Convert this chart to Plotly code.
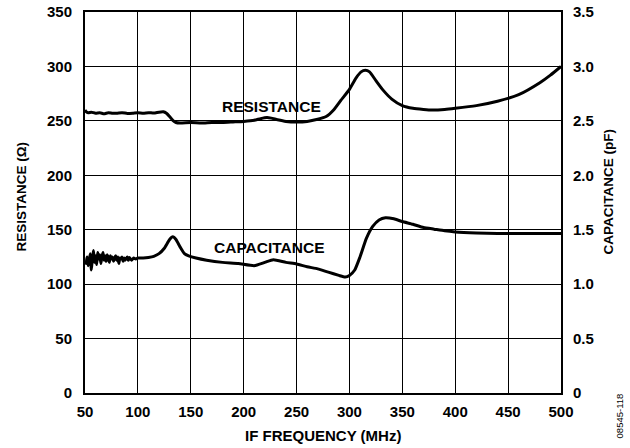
import plotly.graph_objects as go

# Resistance (ohm) vs IF frequency (MHz)
res_freq = [50, 51, 53, 56, 60, 64, 68, 72, 76, 80, 85, 90, 95, 100, 105, 110, 115,
            120, 124, 127, 130, 133, 136, 140, 150, 160, 170, 180, 190, 200, 210, 216, 222, 226, 232,
            240, 250, 260, 270, 278, 285, 292, 300, 306, 311, 315, 319, 325, 332, 340, 350, 360,
            370, 378, 390, 400, 420, 440, 460, 480, 490, 500]
res_vals = [260, 258.5, 257.5, 258, 257, 257.5, 256.5, 257.5, 257, 257, 257.5, 256.8,
            257, 257.5, 257, 257.5, 257.2, 258, 258.3, 257, 254, 250.5, 248.5, 248, 248.5, 248, 248.5, 248.5,
            249, 249.5, 250.5, 252, 253, 252.5, 251,
            249.5, 249, 249.5, 251.5, 254, 260, 269, 279, 289, 295, 296.5, 295, 287, 278, 270, 264, 261.5,
            260.5, 260, 260.5, 261.5, 264, 268, 274, 285, 292, 300]

# Capacitance (pF) vs IF frequency (MHz)
cap_freq = [50, 51, 52, 53, 54, 55, 56, 57, 58, 59, 60, 61, 62, 63, 64, 65, 66, 67, 68, 69, 70,
            71, 72, 73, 74, 75, 76, 77, 78, 79, 80, 81, 82, 83, 84, 85, 86, 87, 88, 90, 91, 92, 94,
            96, 98, 100, 105, 110, 115, 120, 125, 130, 133, 136, 140, 144,
            148, 155, 165, 180, 195, 210, 220, 228, 240, 250, 260, 270, 280, 290, 296, 300, 305, 310,
            316, 322, 328, 334, 342, 350, 360, 370, 380, 390, 400, 420, 440, 460, 500]
cap_vals = [1.21, 1.19, 1.25, 1.17, 1.22, 1.28, 1.13, 1.24, 1.31, 1.20, 1.26, 1.18, 1.29, 1.23, 1.27,
            1.19, 1.25, 1.29, 1.22, 1.26, 1.21, 1.27, 1.24, 1.20, 1.26, 1.23, 1.25, 1.21, 1.24, 1.26,
            1.22, 1.25, 1.19, 1.24, 1.23, 1.25, 1.21, 1.24, 1.22, 1.25, 1.22, 1.245, 1.22,
            1.24, 1.23, 1.24, 1.24, 1.245, 1.255, 1.28, 1.33, 1.41, 1.435, 1.41, 1.34, 1.28,
            1.26, 1.24, 1.22, 1.20, 1.19, 1.17, 1.20, 1.225, 1.20, 1.185, 1.16, 1.14, 1.11, 1.08,
            1.065, 1.08, 1.13, 1.25, 1.42, 1.53, 1.59, 1.61, 1.60, 1.575, 1.55, 1.52, 1.505, 1.49,
            1.48, 1.47, 1.465, 1.465, 1.465]

x_ticks = [50, 100, 150, 200, 250, 300, 350, 400, 450, 500]
y_left_ticks = [0, 50, 100, 150, 200, 250, 300, 350]
y_right_ticks = [0, 0.5, 1.0, 1.5, 2.0, 2.5, 3.0, 3.5]
y_right_labels = ["0", "0.5", "1.0", "1.5", "2.0", "2.5", "3.0", "3.5"]

FONT = "Liberation Sans, Arial, sans-serif"
tickfont = dict(family=FONT, size=15, color="black", weight="bold")

W, H = 630, 448
PL, PT, PR, PB = 85, 12, 561.5, 393   # plot area in page pixels
L, T, R, B = PL, PT, W - PR, H - PB
pw, ph = W - L - R, H - T - B


def paper(px, py):
    return (px - PL) / pw, (PB - py) / ph


fig = go.Figure()
fig.add_trace(go.Scatter(x=res_freq, y=res_vals, mode="lines",
                         line=dict(color="black", width=3, shape="spline", smoothing=0.5),
                         showlegend=False, yaxis="y"))
fig.add_trace(go.Scatter(x=cap_freq, y=cap_vals, mode="lines",
                         line=dict(color="black", width=3, shape="spline", smoothing=0.5),
                         showlegend=False, yaxis="y2"))

fig.update_layout(
    width=W, height=H,
    margin=dict(l=L, r=R, t=T, b=B, autoexpand=False),
    paper_bgcolor="white", plot_bgcolor="white",
    xaxis=dict(range=[50, 500], tickvals=x_ticks, showgrid=True, gridcolor="black", gridwidth=1,
               showline=True, linecolor="black", linewidth=2, mirror=True, zeroline=False,
               ticks="", tickfont=tickfont, ticklabelstandoff=4, automargin=False,
               ticklabeloverflow="allow"),
    yaxis=dict(range=[0, 350], tickvals=y_left_ticks, showgrid=True, gridcolor="black", gridwidth=1,
               showline=True, linecolor="black", linewidth=2, zeroline=False,
               ticks="", tickfont=tickfont, ticklabelstandoff=8, automargin=False,
               ticklabeloverflow="allow"),
    yaxis2=dict(range=[0, 3.5], tickvals=y_right_ticks, ticktext=y_right_labels, overlaying="y",
                side="right", showgrid=False, showline=True, linecolor="black", linewidth=2,
                zeroline=False, ticks="", tickfont=tickfont, ticklabelstandoff=7, automargin=False,
                ticklabeloverflow="allow"),
)

xt = paper(323, 435)
lt = paper(21.5, 197)
rt = paper(609, 192)
idl = paper(620, 416)
common = dict(xref="paper", yref="paper", showarrow=False, xanchor="center", yanchor="middle")
fig.update_layout(annotations=[
    dict(x=226, y=263.5, xref="x", yref="y", text="RESISTANCE", showarrow=False,
         xanchor="center", yanchor="middle",
         font=dict(family=FONT, size=15.5, color="black", weight="bold")),
    dict(x=224.7, y=133.8, xref="x", yref="y", text="CAPACITANCE", showarrow=False,
         xanchor="center", yanchor="middle",
         font=dict(family=FONT, size=15.5, color="black", weight="bold")),
    dict(x=xt[0], y=xt[1], text="IF FREQUENCY (MHz)",
         font=dict(family=FONT, size=15, color="black", weight="bold"), **common),
    dict(x=lt[0], y=lt[1], text="RESISTANCE (Ω)", textangle=-90,
         font=dict(family=FONT, size=13.5, color="black", weight="bold"), **common),
    dict(x=rt[0], y=rt[1], text="CAPACITANCE (pF)", textangle=-90,
         font=dict(family=FONT, size=13.5, color="black", weight="bold"), **common),
    dict(x=idl[0], y=idl[1], text="08545-118", textangle=-90,
         font=dict(family=FONT, size=9.5, color="black"), **common),
])

# remove the default 8px page margin so the figure sits at the window's top-left corner
fig.write_html("out.html", config={"displayModeBar": False},
               post_script="document.body.style.margin='0px';")
